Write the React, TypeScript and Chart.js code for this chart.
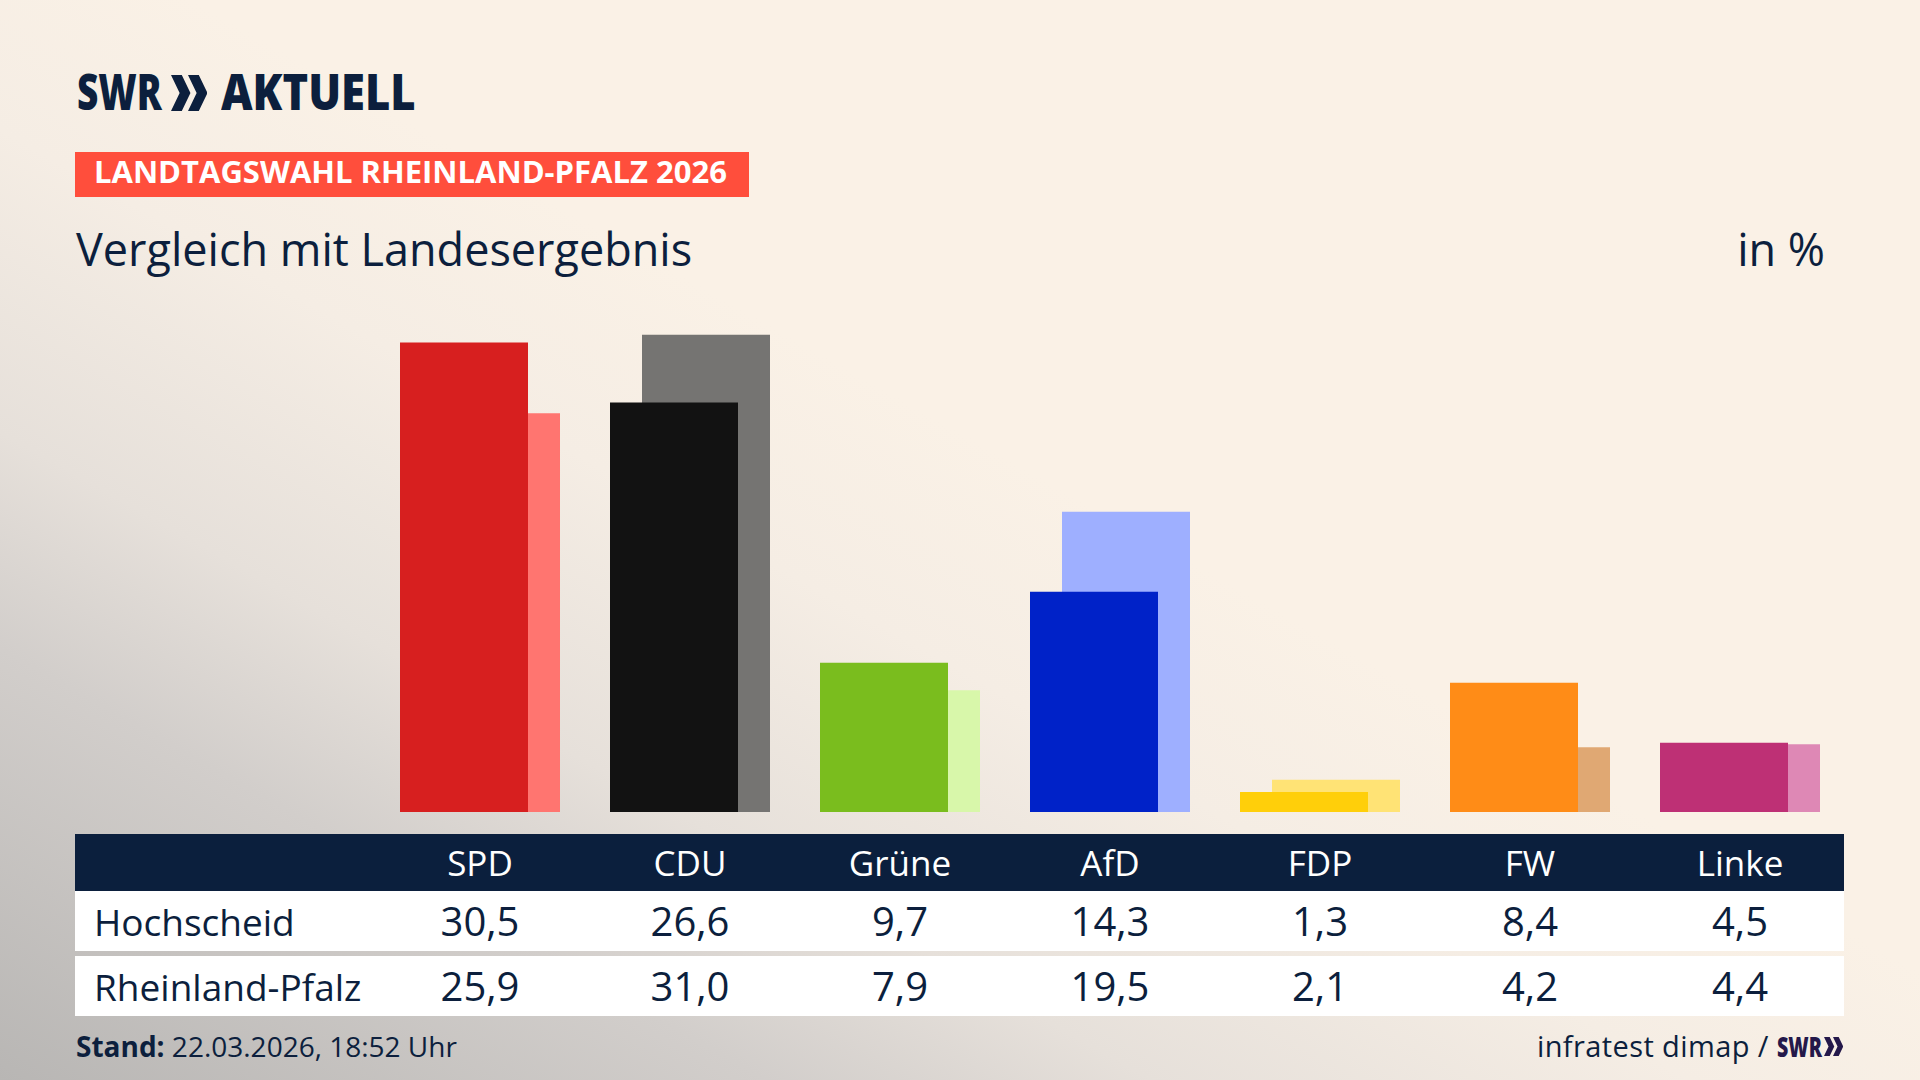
import React, { useEffect, useRef } from "react";
import { Chart, registerables } from "chart.js";

Chart.register(...registerables);

// ---- data ----
const parties = ["SPD", "CDU", "Grüne", "AfD", "FDP", "FW", "Linke"];
const rowLabels = ["Hochscheid", "Rheinland-Pfalz"];
const hochscheid = [30.5, 26.6, 9.7, 14.3, 1.3, 8.4, 4.5];
const rheinlandPfalz = [25.9, 31.0, 7.9, 19.5, 2.1, 4.2, 4.4];

// ---- styles ----
const localColors = ["#d71f1f", "#121212", "#7abd1e", "#0022c8", "#ffcf0a", "#ff8c17", "#be3075"];
const stateColors = ["#ff7570", "#757472", "#d8f7aa", "#9eafff", "#ffe375", "#e0a873", "#de88b5"];

const NAVY = "#0c1f3d";
const FONT = "'Open Sans', 'Noto Sans', sans-serif";

const fmt = (v: number) => v.toFixed(1).replace(".", ",");

function Chevrons({ h, color, gap }: { h: number; color: string; gap: number }) {
  const w = h * 0.54;
  const t = h * 0.3;
  const pts = (o: number) =>
    `${o},0 ${o + t},0 ${o + w},${h / 2} ${o + t},${h} ${o},${h} ${o + w - t},${h / 2}`;
  return (
    <svg width={w + gap} height={h} style={{ display: "block" }}>
      <polygon points={pts(0)} fill={color} />
      <polygon points={pts(gap)} fill={color} />
    </svg>
  );
}

export default function App() {
  const canvasRef = useRef<HTMLCanvasElement | null>(null);

  useEffect(() => {
    if (!canvasRef.current) return;
    const chart = new Chart(canvasRef.current, {
      type: "bar",
      data: {
        labels: parties,
        datasets: [
          { label: rowLabels[0], data: hochscheid, backgroundColor: localColors, borderWidth: 0 },
          { label: rowLabels[1], data: rheinlandPfalz, backgroundColor: stateColors, borderWidth: 0 },
        ],
      },
      options: {
        responsive: false,
        animation: false,
        devicePixelRatio: 1,
        layout: { padding: 0 },
        datasets: { bar: { categoryPercentage: 64 / 210, barPercentage: 4 } },
        scales: {
          x: { display: false, offset: true, grid: { display: false } },
          y: { display: false, min: 0, max: 36.5, grid: { display: false } },
        },
        plugins: { legend: { display: false }, tooltip: { enabled: false } },
      },
    });
    return () => chart.destroy();
  }, []);

  const colCenter = (i: number) => 480 + 210 * i;

  return (
    <div
      style={{
        position: "fixed",
        left: 0,
        top: 0,
        width: 1920,
        height: 1080,
        overflow: "hidden",
        fontFamily: FONT,
        color: NAVY,
        background:
          "linear-gradient(to top right, #b8b6b4 0%, #d2cecb 20%, #e6e0da 30%, #f5ede4 44%, #faf1e6 55%, #faf1e6 100%)",
      }}
    >
      {/* Logo */}
      <div style={{ position: "absolute", left: 77, top: 75 - 0.174 * 50, fontSize: 50, lineHeight: 1, fontWeight: 800, transform: "scaleX(0.74)", transformOrigin: "left top", whiteSpace: "nowrap" }}>
        SWR
      </div>
      <div style={{ position: "absolute", left: 171, top: 75 }}>
        <Chevrons h={36} color={NAVY} gap={17} />
      </div>
      <div style={{ position: "absolute", left: 221, top: 75 - 0.174 * 50, fontSize: 50, lineHeight: 1, fontWeight: 800, transform: "scaleX(0.87)", transformOrigin: "left top", whiteSpace: "nowrap" }}>
        AKTUELL
      </div>

      {/* Red banner */}
      <div style={{ position: "absolute", left: 75, top: 152, width: 674, height: 45, background: "#ff4e3c" }} />
      <div style={{ position: "absolute", left: 94, top: 184 - 0.888 * 31, fontSize: 31, lineHeight: 1, fontWeight: 700, color: "#ffffff", whiteSpace: "nowrap" }}>
        LANDTAGSWAHL RHEINLAND-PFALZ 2026
      </div>

      {/* Title */}
      <div style={{ position: "absolute", left: 76, top: 266 - 0.888 * 45, fontSize: 45, lineHeight: 1, whiteSpace: "nowrap" }}>
        Vergleich mit Landesergebnis
      </div>
      <div style={{ position: "absolute", right: 1920 - 1825, top: 266 - 0.888 * 45, fontSize: 45, lineHeight: 1, whiteSpace: "nowrap" }}>
        in %
      </div>

      {/* Chart */}
      <div style={{ position: "absolute", left: 375, top: 250, width: 1470, height: 562 }}>
        <canvas ref={canvasRef} width={1470} height={562} style={{ display: "block", width: 1470, height: 562 }} />
      </div>

      {/* Table */}
      <div style={{ position: "absolute", left: 75, top: 834, width: 1769, height: 57, background: "#0b1f3d" }}>
        {parties.map((p, i) => (
          <div key={p} style={{ position: "absolute", left: colCenter(i) - 75 - 100, width: 200, top: 0, height: 57, display: "flex", alignItems: "center", justifyContent: "center", color: "#ffffff", fontSize: 35, lineHeight: 1 }}>
            {p}
          </div>
        ))}
      </div>
      {[hochscheid, rheinlandPfalz].map((row, r) => (
        <div key={r} style={{ position: "absolute", left: 75, top: r === 0 ? 891 : 956, width: 1769, height: 60, background: "#ffffff" }}>
          <div style={{ position: "absolute", left: 19, top: 0, height: 60, display: "flex", alignItems: "center", fontSize: 37, lineHeight: 1, whiteSpace: "nowrap" }}>
            {rowLabels[r]}
          </div>
          {row.map((v, i) => (
            <div key={i} style={{ position: "absolute", left: colCenter(i) - 75 - 100, width: 200, top: 0, height: 60, display: "flex", alignItems: "center", justifyContent: "center", fontSize: 40, lineHeight: 1 }}>
              {fmt(v)}
            </div>
          ))}
        </div>
      ))}

      {/* Footer */}
      <div style={{ position: "absolute", left: 76, top: 1057 - 0.888 * 28, fontSize: 28, lineHeight: 1, whiteSpace: "nowrap" }}>
        <span style={{ fontWeight: 700 }}>Stand:</span> 22.03.2026, 18:52 Uhr
      </div>
      <div style={{ position: "absolute", right: 1920 - 1843, top: 1057 - 0.888 * 29, fontSize: 29, lineHeight: 1, whiteSpace: "nowrap", display: "flex", alignItems: "flex-start" }}>
        <span style={{ letterSpacing: 0.4 }}>infratest dimap /&nbsp;</span>
        <span style={{ display: "inline-block", width: 44, overflow: "visible" }}>
          <span style={{ fontWeight: 800, fontSize: 28, marginTop: 1, color: "#24184a", display: "inline-block", transform: "scaleX(0.7)", transformOrigin: "left top" }}>SWR</span>
        </span>
        <span style={{ display: "inline-block", marginTop: 0.174 * 29 + 1, marginLeft: 3 }}>
          <Chevrons h={19} color="#24184a" gap={9} />
        </span>
      </div>
    </div>
  );
}
